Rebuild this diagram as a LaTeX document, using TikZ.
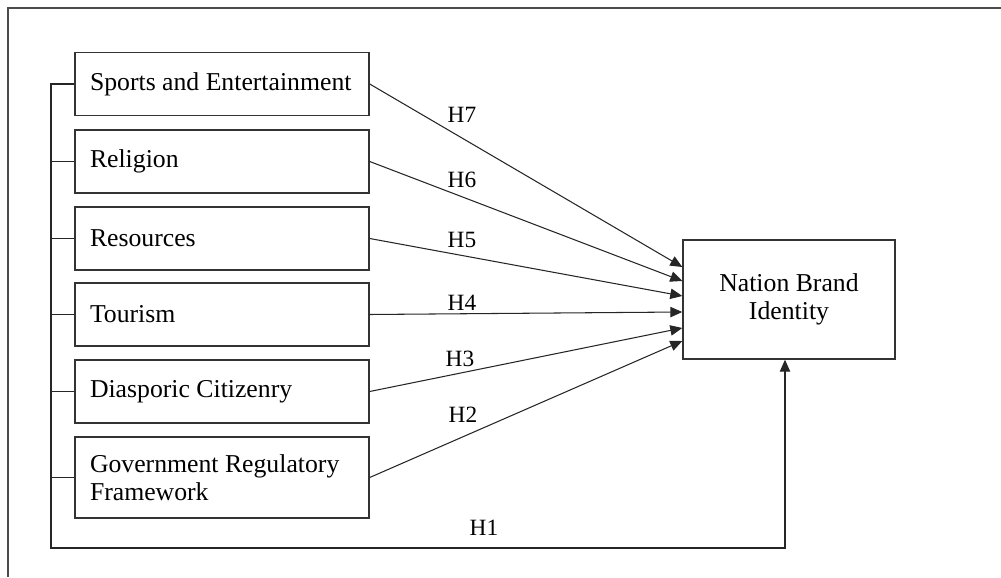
\documentclass[tikz,border=0pt]{standalone}
\usepackage{fontspec}
\setmainfont{Liberation Serif}
\usetikzlibrary{arrows.meta}

\tikzset{
  factor/.style={draw=black!80, line width=1pt, rectangle, minimum width=7.35cm,
    minimum height=1.575cm, text width=6.6cm, inner xsep=0.375cm, align=flush left,
    font=\fontsize{18.3}{19.9}\selectfont},
  outcome/.style={draw=black!80, line width=1pt, rectangle, minimum width=5.3cm,
    minimum height=2.975cm, align=center, font=\fontsize{18.3}{19.9}\selectfont},
  hyp/.style={draw=black!85, line width=0.75pt, -{Triangle[length=0.3cm,width=0.26cm]}},
  hlabel/.style={font=\fontsize{16.6}{18}\selectfont}
}

\begin{document}
\begin{tikzpicture}
\useasboundingbox (0,0) rectangle (25.025,14.425);
% Frame
\draw[line width=1.4pt, black!70] (0.2,0) -- (0.2,14.225) -- (25.025,14.225);

% Factors
\node[factor] (sports) at (5.55,12.325) {Sports and Entertainment};
\node[factor] (religion) at (5.55,10.3875) {Religion};
\node[factor] (resources) at (5.55,8.4625) {Resources};
\node[factor] (tourism) at (5.55,6.5625) {Tourism};
\node[factor] (diaspora) at (5.55,4.6375) {Diasporic Citizenry};
\node[factor, minimum height=2.025cm] (gov) at (5.55,2.4875) {Government Regulatory\\Framework};

% Outcome
\node[outcome] (nbi) at (19.725,6.9375) {Nation Brand\\Identity};

% Hypothesis paths
\draw[hyp] (sports.east) -- ([yshift=0.8125cm]nbi.west);
\draw[hyp] (religion.east) -- ([yshift=0.4625cm]nbi.west);
\draw[hyp] (resources.east) -- ([yshift=0.0875cm]nbi.west);
\draw[hyp] (tourism.east) -- ([yshift=-0.3125cm]nbi.west);
\draw[hyp] (diaspora.east) -- ([yshift=-0.7125cm]nbi.west);
\draw[hyp] (gov.east) -- ([yshift=-1.0375cm]nbi.west);

\node[hlabel] (h7) at (11.55,11.55) {H7};
\node[hlabel] (h6) at (11.55,9.925) {H6};
\node[hlabel] (h5) at (11.55,8.425) {H5};
\node[hlabel] (h4) at (11.55,6.85) {H4};
\node[hlabel] (h3) at (11.5,5.45) {H3};
\node[hlabel] (h2) at (11.575,4.05) {H2};

% Joint path H1
\coordinate (corner) at (1.275,0.725);
\foreach \n in {religion,resources,tourism,diaspora,gov}
  \draw[draw=black!85, line width=0.75pt] (\n.west) -- (\n.west -| corner);
\draw[hyp] (sports.west) -- (sports.west -| corner) -- (corner)
  -| ([xshift=-0.1cm]nbi.south);
\node[hlabel] (h1) at (12.1,1.225) {H1};
\end{tikzpicture}
\end{document}
